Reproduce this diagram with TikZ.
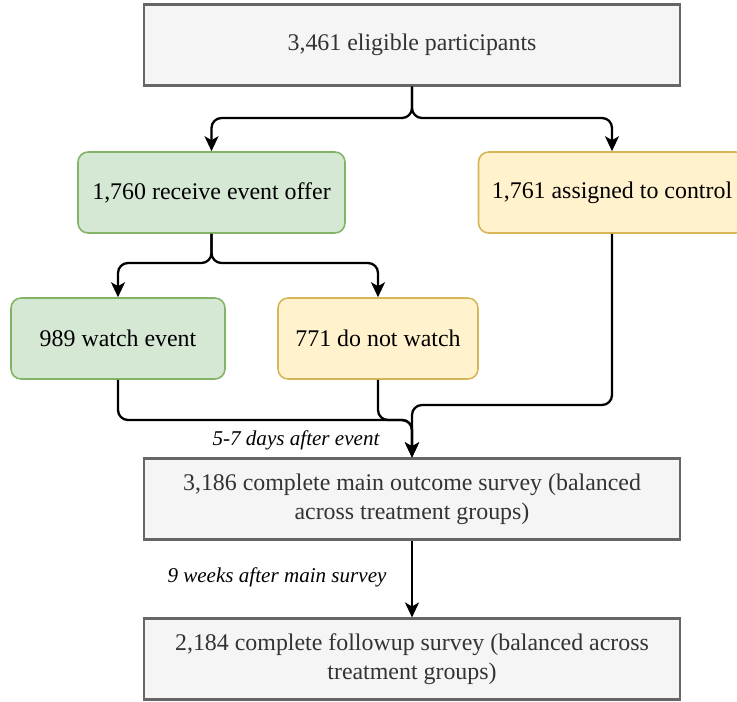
\documentclass[tikz,border=0pt]{standalone}
\usepackage{fontspec}
\setmainfont{Liberation Serif}
\usetikzlibrary{arrows.meta}
\definecolor{graybg}{HTML}{F5F5F5}
\definecolor{grayline}{HTML}{666666}
\definecolor{greenbg}{HTML}{D5E8D4}
\definecolor{greenline}{HTML}{82B366}
\definecolor{yellowbg}{HTML}{FFF2CC}
\definecolor{yellowline}{HTML}{D6B656}
\definecolor{graytext}{HTML}{333333}
\tikzset{
  graybox/.style={draw=grayline, fill=graybg, line width=1.2pt, text=graytext,
    minimum width=10.72cm, minimum height=1.62cm, align=center,
    font=\fontsize{13.6}{16.5}\selectfont},
  greenbox/.style={draw=greenline, fill=greenbg, line width=0.9pt, rounded corners=0.2cm,
    minimum height=1.62cm, align=center, font=\fontsize{13.6}{16.5}\selectfont},
  yellowbox/.style={greenbox, draw=yellowline, fill=yellowbg},
  note/.style={font=\fontsize{12}{14}\selectfont\itshape},
  flow/.style={line width=1.3pt, rounded corners=0.2cm,
    -{Stealth[length=0.3cm, width=0.28cm, inset=0.08cm]}}
}
\begin{document}
\begin{tikzpicture}[x=0.02cm, y=-0.02cm]
  \useasboundingbox (0,0) rectangle (737,702);
  \node[graybox] (elig) at (412,45) {3,461 eligible participants};
  \node[greenbox, minimum width=5.34cm] (offer) at (211.5,192.5) {1,760 receive event offer};
  \node[yellowbox, minimum width=5.34cm] (control) at (612,192.5) {1,761 assigned to control};
  \node[greenbox, minimum width=4.28cm] (watch) at (118,338.5) {989 watch event};
  \node[yellowbox, minimum width=4cm] (nowatch) at (378,338.5) {771 do not watch};
  \node[graybox] (main) at (412,499) {3,186 complete main outcome survey (balanced\\across treatment groups)};
  \node[graybox] (follow) at (412,659) {2,184 complete followup survey (balanced across\\treatment groups)};
  \node[note] (days) at (296,440) {5-7 days after event};
  \node[note] (weeks) at (277,577) {9 weeks after main survey};
  \coordinate (split1) at (412,118);
  \coordinate (split2) at (211.5,263);
  \coordinate (join) at (412,420);
  \coordinate (cjoin) at (412,405);
  \begin{scope}[flow]
    \draw (elig.south) -- (split1) -| (offer.north);
    \draw (elig.south) -- (split1) -| (control.north);
    \draw (offer.south) -- (split2) -| (watch.north);
    \draw (offer.south) -- (split2) -| (nowatch.north);
    \draw (watch.south) |- (join) -- (main.north);
    \draw (nowatch.south) |- (join) -- (main.north);
    \draw (control.south) |- (cjoin) -- (main.north);
    \draw (main.south) -- (follow.north);
  \end{scope}
\end{tikzpicture}
\end{document}
